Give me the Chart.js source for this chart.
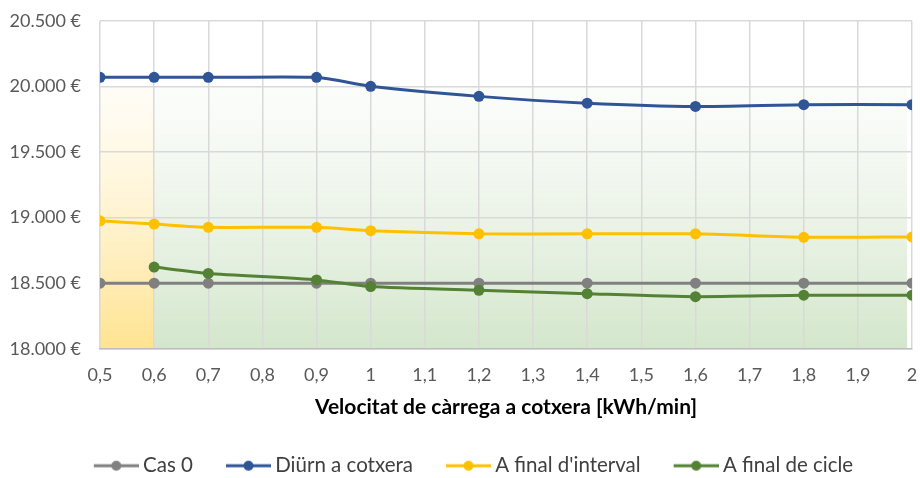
<!DOCTYPE html>
<html>
<head>
<meta charset="utf-8">
<script src="https://cdn.jsdelivr.net/npm/chart.js@4"></script>
<style>
  html, body { margin: 0; padding: 0; background: #fff; }
  #wrap { width: 920px; height: 478px; }
</style>
</head>
<body>
<div id="wrap"><canvas id="chart" width="920" height="478"></canvas></div>
<script>
// x values (kWh/min) and series
const speeds = [0.5, 0.6, 0.7, 0.9, 1, 1.2, 1.4, 1.6, 1.8, 2];
const cas0 = [18500, 18500, 18500, 18500, 18500, 18500, 18500, 18500, 18500, 18500];
const diurn = [20070, 20070, 20070, 20070, 20002, 19925, 19873, 19848, 19862, 19862];
const finalInterval = [18976, 18951, 18926, 18926, 18900, 18876, 18876, 18877, 18850, 18853];
const finalCicle = [null, 18623, 18574, 18525, 18474, 18446, 18420, 18397, 18408, 18408];

const seriesNames = ['Cas 0', 'Diürn a cotxera', "A final d'interval", 'A final de cicle'];
const seriesColors = ['#808080', '#2F5597', '#FFC000', '#548235'];

// shaded zones behind the lines: [fromX, toX]
const zoneRanges = [[0.5, 0.6], [0.6, 1.991]];
const zoneColors = ['#FFE38F', '#D3E6CB'];
const zoneTopColors = ['rgba(255,240,200,0.15)', 'rgba(230,240,225,0.15)'];
const zoneTop = 20000;
const zoneBottom = 18000;

const FONT = 'Lato, "Open Sans", sans-serif';

// legend marker: line with a dot, drawn at the right side of a wider image
// so the gap to the label is small and the gap to the previous item is wide
function legendIcon(color) {
    const c = document.createElement('canvas');
    c.width = 82; c.height = 12;
    const g = c.getContext('2d');
    g.strokeStyle = color;
    g.lineWidth = 3;
    g.beginPath(); g.moveTo(37, 6); g.lineTo(82, 6); g.stroke();
    g.fillStyle = color;
    g.beginPath(); g.arc(59.5, 6, 5, 0, Math.PI * 2); g.fill();
    return c;
}

const zonesPlugin = {
    id: 'zones',
    beforeDraw(chart) {
        const ctx = chart.ctx;
        const xs = chart.scales.x, ys = chart.scales.y;
        const yTop = ys.getPixelForValue(zoneTop);
        const yBot = ys.getPixelForValue(zoneBottom);
        zoneRanges.forEach((r, i) => {
            const x0 = xs.getPixelForValue(r[0]);
            const x1 = xs.getPixelForValue(r[1]);
            const grad = ctx.createLinearGradient(0, yTop, 0, yBot);
            grad.addColorStop(0, zoneTopColors[i]);
            grad.addColorStop(1, zoneColors[i]);
            ctx.save();
            ctx.fillStyle = grad;
            ctx.fillRect(x0, yTop, x1 - x0, yBot - yTop);
            ctx.restore();
        });
    }
};

const seriesData = [cas0, diurn, finalInterval, finalCicle];
const datasets = seriesData.map((vals, i) => ({
    label: seriesNames[i],
    data: speeds.map((s, j) => ({ x: s, y: vals[j] })),
    borderColor: seriesColors[i],
    backgroundColor: seriesColors[i],
    borderWidth: 3,
    pointRadius: 5.5,
    pointHoverRadius: 5.5,
    pointBorderWidth: 0,
    tension: 0.2,
    order: 3 - i,
    legendIcon: legendIcon(seriesColors[i])
}));

new Chart(document.getElementById('chart'), {
    type: 'line',
    data: { datasets: datasets },
    plugins: [zonesPlugin],
    options: {
        responsive: false,
        animation: false,
        layout: { padding: { left: 0, right: 4, top: 0, bottom: -8 } },
        plugins: {
            tooltip: { enabled: false },
            legend: {
                position: 'bottom',
                labels: {
                    usePointStyle: true,
                    pointStyleWidth: 70,
                    color: '#404040',
                    font: { family: FONT, size: 20.5 },
                    padding: 2,
                    generateLabels(chart) {
                        return chart.data.datasets.map((d, i) => ({
                            text: d.label,
                            fillStyle: d.borderColor,
                            strokeStyle: d.borderColor,
                            pointStyle: d.legendIcon,
                            fontColor: '#404040',
                            datasetIndex: i,
                            hidden: false
                        }));
                    }
                }
            }
        },
        scales: {
            x: {
                type: 'linear',
                min: 0.5,
                max: 2,
                ticks: {
                    stepSize: 0.1,
                    color: '#595959',
                    font: { family: FONT, size: 18 },
                    padding: 16,
                    callback: v => String(Math.round(v * 10) / 10).replace('.', ',')
                },
                grid: { color: '#D9D9D9', lineWidth: 1.5, drawTicks: false },
                border: { color: '#BFBFBF', width: 1.5 },
                title: {
                    display: true,
                    text: 'Velocitat de càrrega a cotxera [kWh/min]',
                    color: '#000',
                    font: { family: FONT, size: 21, weight: 'bold' },
                    padding: { top: -8, bottom: 34 }
                },
                afterFit(scale) { scale.paddingRight = 8; }
            },
            y: {
                min: 18000,
                max: 20500,
                ticks: {
                    stepSize: 500,
                    color: '#595959',
                    font: { family: FONT, size: 18 },
                    padding: 19,
                    callback: v => String(v).replace(/\B(?=(\d{3})+(?!\d))/g, '.') + ' €'
                },
                grid: { color: '#D9D9D9', lineWidth: 1.5, drawTicks: false },
                border: { display: false },
                afterFit(scale) {
                    scale.width = 100;
                    scale.paddingTop = 21;
                    scale.paddingBottom = 0;
                }
            }
        }
    }
});
</script>
</body>
</html>
